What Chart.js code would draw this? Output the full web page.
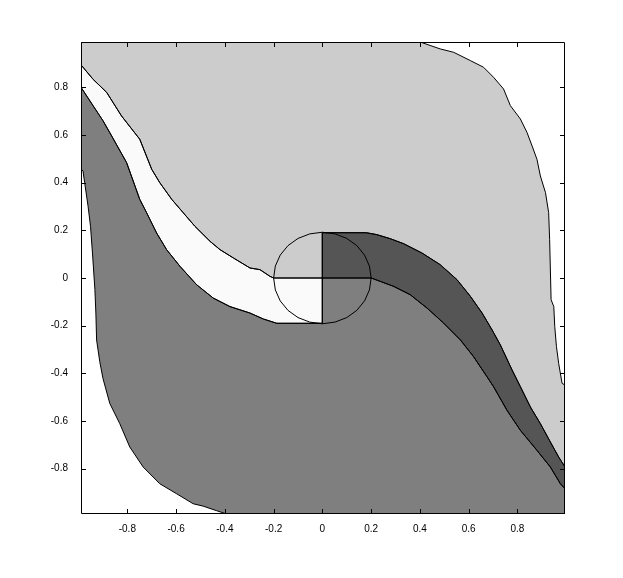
<!DOCTYPE html>
<html>
<head>
<meta charset="utf-8">
<script src="https://cdn.jsdelivr.net/npm/chart.js@4"></script>
<style>
  body { margin: 0; background: #fff; }
  #wrap { width: 623px; height: 578px; }
</style>
</head>
<body>
<div id="wrap"><canvas id="chart"></canvas></div>
<script>
// axis limits and ticks
const xMin = -0.99, xMax = 0.995, yMin = -0.99, yMax = 0.99;
const xTicks = [-0.8, -0.6, -0.4, -0.2, 0, 0.2, 0.4, 0.6, 0.8];
const xTickLabels = ["-0.8", "-0.6", "-0.4", "-0.2", "0", "0.2", "0.4", "0.6", "0.8"];
const yTicks = [-0.8, -0.6, -0.4, -0.2, 0, 0.2, 0.4, 0.6, 0.8];
const yTickLabels = ["-0.8", "-0.6", "-0.4", "-0.2", "0", "0.2", "0.4", "0.6", "0.8"];

// boundary between light grey and the white band (left edge -> circle)
const whiteUpper = [
  [-0.99, 0.894], [-0.94, 0.833], [-0.885, 0.779], [-0.824, 0.68], [-0.749, 0.582],
  [-0.70, 0.456], [-0.667, 0.40], [-0.618, 0.33], [-0.571, 0.274], [-0.523, 0.217],
  [-0.461, 0.154], [-0.42, 0.119], [-0.365, 0.084], [-0.297, 0.042], [-0.256, 0.035],
  [-0.215, 0.007], [-0.2, 0]
];
// boundary between the white band and mid grey (left edge -> circle bottom)
const whiteLower = [
  [-0.99, 0.80], [-0.94, 0.722], [-0.90, 0.66], [-0.872, 0.61], [-0.803, 0.484],
  [-0.749, 0.33], [-0.721, 0.274], [-0.68, 0.189], [-0.639, 0.119], [-0.584, 0.049],
  [-0.516, -0.028], [-0.448, -0.084], [-0.379, -0.12], [-0.297, -0.147], [-0.242, -0.172],
  [-0.187, -0.19], [0, -0.19]
];
// boundary between light grey and the dark band (circle top -> right edge)
const darkUpper = [
  [0, 0.19], [0.18, 0.19], [0.223, 0.182], [0.278, 0.165], [0.333, 0.144],
  [0.408, 0.105], [0.483, 0.056], [0.552, -0.007], [0.607, -0.077], [0.655, -0.147],
  [0.696, -0.218], [0.73, -0.281], [0.778, -0.386], [0.812, -0.456], [0.853, -0.541],
  [0.894, -0.611], [0.935, -0.688], [0.969, -0.751], [0.995, -0.793]
];
// boundary between the dark band and mid grey (circle -> right edge)
const darkLower = [
  [0.2, 0], [0.237, -0.014], [0.292, -0.035], [0.36, -0.07], [0.429, -0.126],
  [0.497, -0.189], [0.566, -0.26], [0.62, -0.33], [0.675, -0.414], [0.702, -0.456],
  [0.757, -0.555], [0.812, -0.639], [0.88, -0.723], [0.935, -0.793], [0.976, -0.863],
  [0.995, -0.884]
];
// left edge of mid grey against the white lower-left corner
const midLeft = [
  [-0.99, 0.455], [-0.982, 0.45], [-0.975, 0.40], [-0.961, 0.301], [-0.951, 0.217],
  [-0.943, 0.105], [-0.933, -0.049], [-0.929, -0.147], [-0.926, -0.26], [-0.913, -0.351],
  [-0.90, -0.421], [-0.872, -0.526], [-0.831, -0.611], [-0.79, -0.709], [-0.735, -0.793],
  [-0.667, -0.863], [-0.598, -0.905], [-0.53, -0.947], [-0.489, -0.957], [-0.434, -0.976],
  [-0.393, -0.99]
];
// right edge of light grey against the white upper-right corner
const lightRight = [
  [0.401, 0.99], [0.483, 0.961], [0.538, 0.947], [0.607, 0.912], [0.661, 0.884],
  [0.702, 0.842], [0.743, 0.793], [0.771, 0.723], [0.812, 0.667], [0.839, 0.611],
  [0.86, 0.554], [0.88, 0.498], [0.894, 0.428], [0.915, 0.358], [0.928, 0.274],
  [0.932, 0.161], [0.938, -0.091], [0.949, -0.12], [0.953, -0.204], [0.96, -0.288],
  [0.969, -0.358], [0.976, -0.40], [0.983, -0.442], [0.995, -0.449]
];
// small circle round the origin
const circleX = [0.2, 0.193, 0.173, 0.141, 0.1, 0.052, 0, -0.052, -0.1, -0.141, -0.173, -0.193,
  -0.2, -0.193, -0.173, -0.141, -0.1, -0.052, 0, 0.052, 0.1, 0.141, 0.173, 0.193, 0.2];
const circleY = [0, 0.05, 0.096, 0.136, 0.166, 0.185, 0.192, 0.185, 0.166, 0.136, 0.096, 0.05,
  0, -0.05, -0.096, -0.136, -0.166, -0.185, -0.192, -0.185, -0.166, -0.136, -0.096, -0.05, 0];

const rev = (arr) => arr.slice().reverse();
const toPts = (arr) => {
  const pts = arr.map(([x, y]) => ({ x, y }));
  pts.push({ ...pts[0] });
  return pts;
};

const lightGrey = [[xMin, yMax], ...lightRight, ...rev(darkUpper), [0, 0], ...rev(whiteUpper)];
const whiteBand = [...whiteUpper, [0, 0], ...rev(whiteLower)];
const darkBand = [...darkUpper, ...rev(darkLower), [0, 0]];
const midGrey = [...whiteLower, [0, 0], ...darkLower, [xMax, yMin], ...rev(midLeft)];

function region(points, color) {
  return {
    data: toPts(points),
    showLine: true,
    fill: "shape",
    backgroundColor: color,
    borderColor: "#000",
    borderWidth: 1,
    pointRadius: 0,
    tension: 0,
  };
}

const boxTicks = {
  id: "boxTicks",
  afterDatasetsDraw(chart) {
    const { ctx, chartArea: a, scales } = chart;
    ctx.save();
    ctx.strokeStyle = "#000";
    ctx.lineWidth = 1;
    ctx.beginPath();
    xTicks.forEach((v) => {
      const p = Math.round(scales.x.getPixelForValue(v)) + 0.5;
      ctx.moveTo(p, a.bottom);
      ctx.lineTo(p, a.bottom - 5);
      ctx.moveTo(p, a.top);
      ctx.lineTo(p, a.top + 5);
    });
    yTicks.forEach((v) => {
      const p = Math.round(scales.y.getPixelForValue(v)) + 0.5;
      ctx.moveTo(a.left, p);
      ctx.lineTo(a.left + 5, p);
      ctx.moveTo(a.right, p);
      ctx.lineTo(a.right - 5, p);
    });
    ctx.rect(a.left + 0.5, a.top + 0.5, a.right - a.left - 1, a.bottom - a.top - 1);
    ctx.stroke();
    ctx.restore();
  },
};

new Chart(document.querySelector("#chart"), {
  type: "scatter",
  data: {
    datasets: [
      {
        data: circleX.map((x, i) => ({ x, y: circleY[i] })),
        showLine: true,
        fill: false,
        borderColor: "#000",
        borderWidth: 1,
        pointRadius: 0,
      },
      region(lightGrey, "#cccccc"),
      region(whiteBand, "#fafafa"),
      region(darkBand, "#555555"),
      region(midGrey, "#7f7f7f"),
    ],
  },
  options: {
    responsive: true,
    maintainAspectRatio: false,
    animation: false,
    layout: { padding: { top: 42, right: 58, left: 0, bottom: 0 } },
    plugins: {
      legend: { display: false },
      tooltip: { enabled: false },
      filler: { drawTime: "beforeDatasetsDraw" },
    },
    scales: {
      x: {
        type: "linear",
        min: xMin,
        max: xMax,
        grid: { display: false },
        border: { display: false },
        afterBuildTicks: (s) => { s.ticks = xTicks.map((value) => ({ value })); },
        afterFit: (s) => { s.height = 64; },
        ticks: {
          padding: 1,
          color: "#000",
          font: { family: "Liberation Sans, Arial", size: 10 },
          callback: (v) => xTickLabels[xTicks.indexOf(v)],
        },
      },
      y: {
        type: "linear",
        min: yMin,
        max: yMax,
        grid: { display: false },
        border: { display: false },
        afterBuildTicks: (s) => { s.ticks = yTicks.map((value) => ({ value })); },
        afterFit: (s) => { s.width = 81; },
        ticks: {
          padding: 5,
          color: "#000",
          font: { family: "Liberation Sans, Arial", size: 10 },
          callback: (v) => yTickLabels[yTicks.indexOf(v)],
        },
      },
    },
  },
  plugins: [boxTicks],
});
</script>
</body>
</html>
